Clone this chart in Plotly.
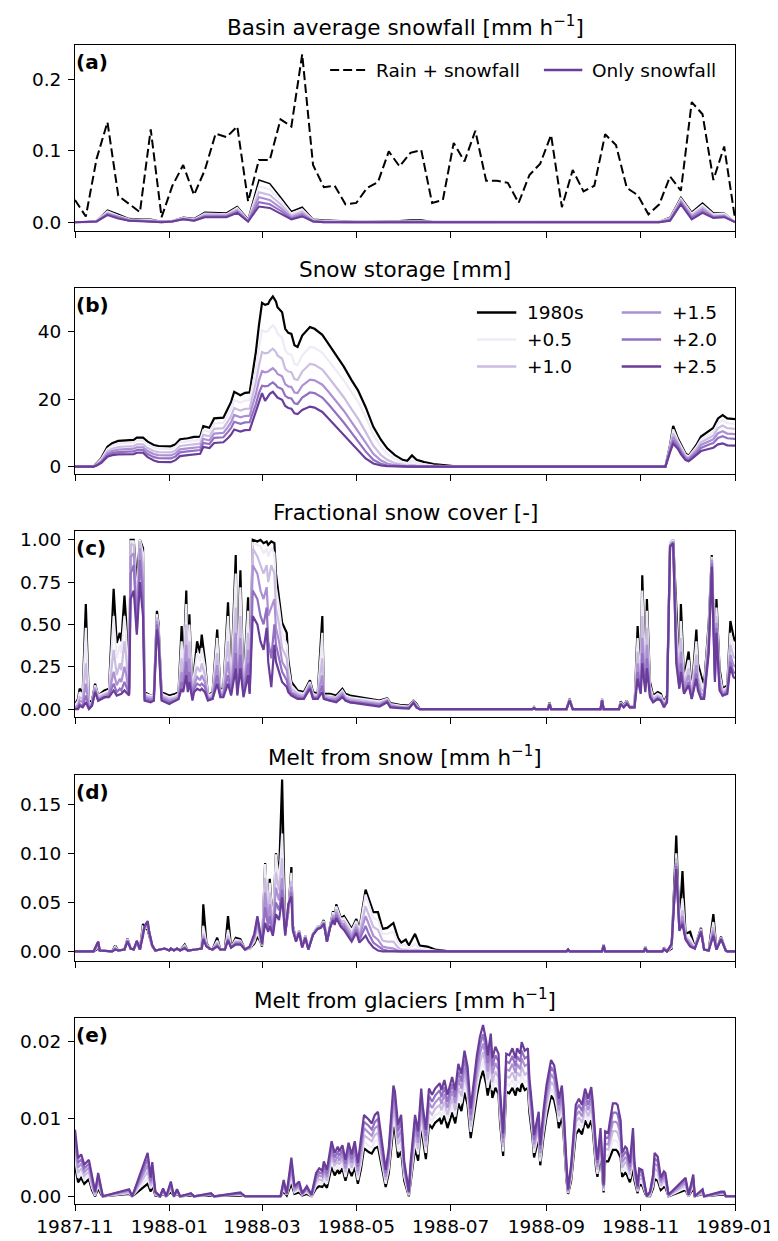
import pandas as pd
import plotly.graph_objects as go

# ---------------- data ----------------
START = pd.Timestamp("1987-11-01")
END = pd.Timestamp("1989-01-01")

SCEN_NAMES = ["1980s", "+0.5", "+1.0", "+1.5", "+2.0", "+2.5"]
SCEN_COLORS = ["#000000", "#efebf6", "#cbbce1", "#ad90d3", "#9370c1", "#6a3d9a"]

X_TICK_DATES = ["1987-11-01", "1988-01-01", "1988-03-01", "1988-05-01",
                "1988-07-01", "1988-09-01", "1988-11-01", "1989-01-01"]
X_TICK_LABELS = ["1987-11", "1988-01", "1988-03", "1988-05",
                 "1988-07", "1988-09", "1988-11", "1989-01"]

# (a) weekly basin averages
WEEK_DATES = pd.date_range("1987-11-01", "1989-01-01", freq="7D")
RAIN_SNOW = [.031, .008, .089, .140, .037, .025, .014, .130, .007, .051,
             .080, .038, .073, .124, .119, .134, .029, .087, .087, .144,
             .134, .235, .080, .049, .051, .025, .027, .048, .056, .099,
             .078, .097, .101, .027, .031, .111, .085, .128, .058, .058,
             .055, .027, .066, .082, .122, .021, .073, .043, .051, .123,
             .108, .048, .038, .011, .025, .064, .044, .168, .151, .059,
             .106, .005]
SNOW_1980S = [0, 0, .002, .017, .011, .005, .004, .004, .001, .002,
              .007, .005, .014, .014, .013, .022, .004, .059, .054, .035,
              .015, .021, .004, .003, .002, .001, .001, .001, .001, .001,
              .002, .003, .003, .001, 0, 0, 0, 0, 0, 0,
              0, 0, 0, 0, 0, 0, 0, 0, 0, 0,
              0, 0, 0, 0, .001, .007, .035, .014, .027, .013,
              .013, 0]
SNOW_P05 = [0, 0, .002, .015, .009, .004, .003, .003, .001, .002,
            .006, .004, .012, .012, .011, .020, .003, .050, .046, .030,
            .012, .018, .003, .002, .001, .001, .001, .001, .001, .001,
            .001, .002, .002, .001, 0, 0, 0, 0, 0, 0,
            0, 0, 0, 0, 0, 0, 0, 0, 0, 0,
            0, 0, 0, 0, .001, .006, .033, .012, .024, .011,
            .012, 0]
SNOW_P10 = [0, 0, .002, .013, .008, .003, .003, .002, .001, .002,
            .005, .003, .011, .011, .010, .018, .002, .042, .038, .025,
            .009, .015, .002, .001, .001, .001, 0, 0, 0, 0,
            .001, .001, .001, 0, 0, 0, 0, 0, 0, 0,
            0, 0, 0, 0, 0, 0, 0, 0, 0, 0,
            0, 0, 0, 0, .001, .005, .031, .010, .021, .009,
            .010, 0]
SNOW_P15 = [0, 0, .001, .012, .007, .003, .002, .002, .001, .001,
            .005, .003, .009, .009, .009, .016, .002, .035, .031, .020,
            .007, .012, .002, .001, 0, 0, 0, 0, 0, 0,
            0, 0, 0, 0, 0, 0, 0, 0, 0, 0,
            0, 0, 0, 0, 0, 0, 0, 0, 0, 0,
            0, 0, 0, 0, 0, .004, .029, .008, .018, .008,
            .009, 0]
SNOW_P20 = [0, 0, .001, .011, .006, .002, .002, .001, 0, .001,
            .004, .002, .008, .008, .008, .014, .001, .028, .025, .016,
            .005, .010, .001, 0, 0, 0, 0, 0, 0, 0,
            0, 0, 0, 0, 0, 0, 0, 0, 0, 0,
            0, 0, 0, 0, 0, 0, 0, 0, 0, 0,
            0, 0, 0, 0, 0, .003, .027, .006, .015, .007,
            .008, 0]
SNOW_P25 = [0, 0, .001, .010, .005, .002, .001, .001, 0, .001,
            .004, .002, .007, .007, .007, .013, .001, .022, .020, .012,
            .004, .008, .001, 0, 0, 0, 0, 0, 0, 0,
            0, 0, 0, 0, 0, 0, 0, 0, 0, 0,
            0, 0, 0, 0, 0, 0, 0, 0, 0, 0,
            0, 0, 0, 0, 0, .002, .025, .004, .013, .006,
            .007, 0]

# (b) snow storage [mm]; days since 1987-11-01
B_DAYS = [0, 12, 14, 17, 21, 24, 28, 33, 38, 40,
          44, 47, 51, 54, 62, 65, 68, 73, 77, 81,
          83, 87, 90, 96, 99, 101, 103, 107, 110, 113,
          114, 117, 119, 121, 123, 125, 126, 128, 130, 131,
          134, 136, 138, 140, 142, 144, 147, 150, 152, 155,
          160, 164, 169, 174, 179, 183, 188, 193, 198, 202,
          207, 212, 215, 218, 221, 226, 232, 239, 248, 300,
          382, 385, 387, 390, 392, 395, 397, 399, 402, 405,
          408, 411, 413, 416, 419, 422, 427]
B_1980S = [0, 0, 1.0, 2.5, 5.9, 6.9, 7.6, 7.8, 7.9, 8.6,
           8.6, 7.4, 6.4, 6.1, 6.0, 6.6, 8.1, 8.4, 8.8, 8.9,
           12.0, 11.5, 14.3, 14.5, 17.2, 19.2, 22.2, 21.2, 21.9, 22.0,
           25.0, 34.0, 41.9, 48.6, 48.0, 48.3, 49.3, 50.5, 49.0, 47.3,
           45.8, 40.9, 39.7, 39.4, 36.0, 35.5, 38.9, 40.4, 41.4, 40.9,
           39.1, 36.4, 33.0, 29.6, 25.6, 22.7, 17.7, 11.8, 7.9, 5.4,
           3.4, 2.0, 1.7, 3.3, 2.0, 1.3, 0.7, 0.3, 0, 0,
           0, 6.4, 12.1, 8.4, 6.4, 3.9, 3.2, 4.4, 6.4, 8.9,
           9.9, 10.8, 11.5, 14.3, 15.3, 14.3, 14.1]
B_P05 = [0, 0, 0.8, 2.2, 5.2, 6.2, 6.8, 7.0, 7.1, 7.7,
         7.7, 6.6, 5.6, 5.3, 5.2, 5.8, 7.2, 7.5, 7.8, 7.9,
         10.8, 10.3, 12.8, 13.0, 15.4, 17.2, 19.8, 19.0, 19.6, 19.7,
         22.0, 29.0, 35.0, 40.5, 40.0, 40.3, 41.0, 42.0, 40.8, 39.5,
         38.2, 34.5, 33.5, 33.2, 30.5, 30.2, 33.0, 34.5, 35.5, 35.3,
         33.8, 31.5, 28.5, 25.5, 22.0, 19.3, 14.8, 9.5, 5.8, 3.8,
         2.2, 1.2, 0.9, 1.8, 1.0, 0.6, 0.3, 0.1, 0, 0,
         0, 6.0, 11.0, 7.8, 5.9, 3.5, 2.9, 4.0, 5.8, 8.0,
         8.9, 9.7, 10.3, 12.9, 13.8, 12.9, 12.7]
B_P10 = [0, 0, 0.6, 1.8, 4.5, 5.3, 5.8, 6.0, 6.1, 6.6,
         6.6, 5.5, 4.6, 4.3, 4.2, 4.8, 6.1, 6.4, 6.7, 6.8,
         9.4, 9.0, 11.2, 11.4, 13.5, 15.0, 17.4, 16.6, 17.1, 17.2,
         19.2, 25.0, 30.0, 34.0, 33.6, 33.8, 34.3, 35.0, 34.0, 33.0,
         32.0, 29.0, 28.2, 28.0, 26.0, 25.7, 28.2, 29.5, 30.5, 30.2,
         28.8, 26.5, 23.5, 20.5, 17.0, 14.3, 10.3, 6.2, 3.4, 2.0,
         1.0, 0.5, 0.3, 0.6, 0.3, 0.1, 0, 0, 0, 0,
         0, 5.6, 9.8, 7.2, 5.3, 3.1, 2.6, 3.6, 5.2, 7.2,
         8.0, 8.7, 9.2, 11.4, 12.2, 11.4, 11.2]
B_P15 = [0, 0, 0.5, 1.5, 3.9, 4.6, 5.0, 5.2, 5.3, 5.7,
         5.7, 4.6, 3.7, 3.4, 3.3, 3.9, 5.1, 5.4, 5.7, 5.8,
         8.2, 7.8, 9.8, 10.0, 11.8, 13.2, 15.3, 14.6, 15.0, 15.1,
         16.8, 21.5, 25.5, 28.3, 28.0, 28.2, 28.6, 29.2, 28.3, 27.5,
         26.8, 24.5, 23.8, 23.6, 22.0, 21.8, 24.0, 25.0, 25.8, 25.6,
         24.3, 22.2, 19.5, 16.5, 13.2, 10.5, 7.0, 3.8, 1.8, 0.9,
         0.4, 0.1, 0, 0.1, 0, 0, 0, 0, 0, 0,
         0, 5.2, 8.8, 6.6, 4.8, 2.7, 2.3, 3.2, 4.6, 6.4,
         7.1, 7.7, 8.1, 9.9, 10.5, 9.8, 9.6]
B_P20 = [0, 0, 0.4, 1.3, 3.4, 4.0, 4.3, 4.4, 4.5, 4.9,
         4.9, 3.7, 2.8, 2.5, 2.4, 3.0, 4.2, 4.5, 4.8, 4.9,
         7.0, 6.7, 8.5, 8.7, 10.3, 11.5, 13.3, 12.7, 13.1, 13.2,
         14.6, 18.5, 21.8, 24.0, 23.8, 24.0, 24.4, 25.0, 24.2, 23.6,
         23.0, 21.0, 20.4, 20.2, 18.8, 18.6, 20.5, 21.3, 22.0, 21.8,
         20.5, 18.5, 15.8, 13.0, 10.0, 7.5, 4.5, 2.0, 0.8, 0.3,
         0.1, 0, 0, 0, 0, 0, 0, 0, 0, 0,
         0, 4.8, 7.8, 6.0, 4.3, 2.3, 1.9, 2.8, 4.0, 5.5,
         6.2, 6.7, 7.0, 8.5, 9.0, 8.4, 8.2]
B_P25 = [0, 0, 0.3, 1.1, 2.9, 3.4, 3.6, 3.7, 3.7, 4.1,
         4.1, 2.8, 1.8, 1.4, 1.3, 1.9, 3.1, 3.4, 3.7, 3.8,
         5.8, 5.5, 7.0, 7.2, 8.5, 9.5, 11.0, 10.4, 10.8, 10.9,
         12.2, 16.3, 19.2, 21.8, 19.5, 21.0, 21.6, 22.2, 21.2, 20.5,
         19.8, 18.0, 17.4, 17.2, 15.8, 15.6, 16.8, 17.4, 17.8, 17.5,
         16.2, 14.3, 11.8, 9.3, 6.8, 4.7, 2.4, 0.9, 0.3, 0.1,
         0, 0, 0, 0, 0, 0, 0, 0, 0, 0,
         0, 4.3, 6.8, 5.3, 3.7, 1.9, 1.6, 2.3, 3.4, 4.6,
         5.0, 5.4, 5.6, 6.6, 6.9, 6.3, 6.2]

# (c) fractional snow cover [-]
C_DAYS = [0, 2, 3, 5, 7, 9, 11, 13, 15, 19,
          22, 25, 27, 29, 30, 32, 33, 35, 36, 38,
          40, 42, 44, 45, 49, 51, 53, 54, 56, 61,
          65, 67, 69, 70, 72, 73, 74, 76, 77, 79,
          81, 82, 84, 86, 89, 92, 94, 96, 99, 101,
          104, 105, 107, 109, 112, 113, 115, 118, 120, 122,
          124, 125, 127, 129, 130, 132, 134, 137, 138, 140,
          144, 148, 152, 154, 157, 160, 161, 165, 169, 173,
          175, 178, 186, 197, 202, 204, 210, 216, 219, 221,
          223, 296, 297, 298, 306, 307, 308, 318, 320, 322,
          340, 341, 342, 352, 353, 355, 357, 359, 362, 364,
          366, 367, 369, 370, 372, 374, 377, 379, 381, 383,
          385, 387, 389, 391, 392, 394, 397, 399, 402, 403,
          405, 407, 410, 412, 414, 415, 417, 419, 422, 424,
          426, 427]
C_1980S = [.03, .06, .12, .10, .62, .04, .05, .15, .08, .11,
           .12, .71, .39, .45, .40, .67, .53, .12, 1.0, 1.0,
           .75, 1.0, .95, .10, .08, .08, .58, .51, .10, .08,
           .09, .10, .49, .22, .70, .25, .56, .08, .22, .40,
           .33, .44, .29, .08, .10, .47, .12, .12, .63, .16,
           .91, .14, .82, .12, .66, .14, 1.0, .99, 1.0, .98,
           .99, .97, .99, .98, .80, .67, .51, .45, .29, .16,
           .11, .10, .17, .10, .09, .55, .09, .09, .08, .12,
           .09, .08, .066, .05, .064, .035, .025, .02, .05, .03,
           0, 0, .012, 0, 0, .04, 0, 0, .06, 0,
           0, .06, 0, 0, .045, .02, .05, .01, .02, .49,
           .16, .79, .20, .65, .16, .08, .10, .09, .04, .08,
           .98, 1.0, .61, .21, .62, .18, .34, .10, .47, .27,
           .20, .14, .51, .91, .27, .65, .24, .12, .14, .52,
           .43, .40]
C_P05 = [.02, .05, .10, .08, .48, .03, .04, .14, .08, .10,
         .11, .55, .30, .38, .33, .55, .45, .11, .99, .99,
         .65, 1.0, .92, .09, .08, .08, .56, .49, .09, .07,
         .08, .09, .40, .20, .62, .22, .50, .08, .20, .33,
         .28, .36, .25, .08, .09, .42, .11, .11, .55, .14,
         .80, .13, .72, .11, .58, .13, .98, .97, .96, .92,
         .95, .90, .95, .92, .72, .60, .45, .38, .25, .14,
         .10, .09, .16, .09, .08, .45, .08, .08, .07, .11,
         .08, .07, .06, .045, .06, .03, .02, .015, .048, .025,
         0, 0, .01, 0, 0, .038, 0, 0, .058, 0,
         0, .058, 0, 0, .04, .02, .045, .01, .02, .42,
         .15, .70, .18, .58, .14, .07, .09, .08, .035, .07,
         .98, 1.0, .52, .19, .52, .16, .29, .09, .40, .23,
         .16, .12, .48, .90, .25, .60, .21, .11, .13, .45,
         .37, .35]
C_P10 = [.01, .03, .07, .06, .27, .02, .04, .13, .07, .09,
         .10, .35, .20, .27, .23, .40, .32, .10, .97, .97,
         .55, .99, .85, .08, .07, .07, .54, .47, .08, .06,
         .07, .08, .30, .17, .50, .18, .40, .07, .17, .25,
         .22, .27, .20, .07, .08, .33, .10, .10, .40, .12,
         .60, .11, .55, .10, .45, .12, .95, .90, .85, .80,
         .85, .75, .85, .80, .60, .50, .36, .30, .20, .12,
         .09, .08, .15, .08, .08, .30, .08, .07, .07, .10,
         .07, .06, .05, .035, .055, .025, .015, .01, .045, .02,
         0, 0, .01, 0, 0, .035, 0, 0, .056, 0,
         0, .056, 0, 0, .04, .015, .04, .01, .015, .34,
         .13, .55, .16, .48, .12, .06, .08, .07, .03, .06,
         .97, .99, .44, .17, .42, .14, .24, .08, .32, .19,
         .12, .10, .44, .89, .22, .55, .18, .10, .12, .38,
         .31, .30]
C_P15 = [.01, .02, .05, .04, .15, .01, .03, .12, .06, .08,
         .09, .22, .14, .18, .16, .25, .21, .09, .90, .92,
         .50, .95, .75, .07, .06, .06, .52, .45, .07, .05,
         .06, .07, .22, .14, .38, .15, .30, .06, .14, .19,
         .17, .20, .16, .06, .07, .26, .09, .09, .28, .10,
         .45, .10, .42, .09, .35, .11, .85, .80, .70, .65,
         .72, .55, .60, .65, .48, .40, .28, .23, .16, .10,
         .08, .07, .14, .07, .07, .20, .07, .06, .06, .09,
         .06, .05, .04, .03, .05, .02, .01, .008, .042, .015,
         0, 0, .008, 0, 0, .032, 0, 0, .054, 0,
         0, .054, 0, 0, .035, .015, .04, .01, .01, .27,
         .11, .42, .14, .38, .10, .05, .07, .06, .025, .05,
         .97, .99, .37, .15, .34, .12, .20, .07, .26, .16,
         .09, .08, .40, .88, .20, .51, .15, .09, .11, .32,
         .26, .25]
C_P20 = [0, .01, .03, .02, .08, 0, .02, .11, .05, .07,
         .08, .15, .10, .12, .11, .16, .14, .09, .80, .85,
         .46, .88, .65, .06, .05, .05, .50, .43, .06, .04,
         .05, .06, .16, .12, .28, .12, .22, .06, .12, .15,
         .14, .15, .13, .06, .06, .20, .08, .08, .20, .09,
         .33, .09, .32, .08, .27, .10, .70, .65, .55, .50,
         .60, .40, .30, .50, .38, .30, .22, .17, .12, .09,
         .07, .06, .13, .07, .06, .14, .06, .05, .05, .08,
         .05, .04, .035, .02, .045, .015, .008, .005, .04, .01,
         0, 0, .006, 0, 0, .03, 0, 0, .052, 0,
         0, .052, 0, 0, .03, .01, .035, .01, .01, .22,
         .10, .33, .12, .30, .08, .045, .06, .05, .02, .04,
         .96, .98, .31, .13, .27, .10, .16, .06, .21, .13,
         .07, .07, .36, .86, .18, .48, .13, .08, .10, .28,
         .22, .21]
C_P25 = [0, 0, .02, .01, .04, 0, .02, .10, .05, .07,
         .07, .11, .08, .09, .09, .11, .10, .08, .65, .70,
         .44, .75, .55, .05, .04, .05, .47, .40, .05, .03,
         .05, .06, .12, .10, .20, .10, .16, .05, .10, .12,
         .11, .12, .10, .05, .06, .15, .07, .07, .15, .08,
         .24, .08, .24, .07, .20, .09, .55, .50, .40, .35,
         .48, .28, .13, .38, .28, .22, .16, .13, .10, .08,
         .06, .06, .12, .06, .06, .10, .06, .05, .04, .07,
         .05, .04, .03, .015, .04, .01, .005, .003, .035, .008,
         0, 0, .005, 0, 0, .028, 0, 0, .05, 0,
         0, .05, 0, 0, .03, .01, .03, .01, .01, .18,
         .09, .27, .10, .24, .07, .04, .06, .05, .01, .04,
         .96, .98, .27, .12, .22, .09, .14, .06, .18, .11,
         .06, .06, .33, .84, .16, .45, .11, .08, .09, .25,
         .19, .18]

# (d) melt from snow [mm h-1]
D_DAYS = [0, 12, 14, 15, 16, 24, 26, 28, 32, 34,
          36, 38, 40, 42, 44, 45, 47, 48, 50, 52,
          58, 61, 62, 64, 66, 68, 71, 73, 78, 82,
          83, 85, 87, 89, 92, 94, 97, 99, 101, 104,
          107, 110, 113, 116, 118, 120, 121, 123, 124, 125,
          126, 128, 130, 132, 134, 136, 138, 140, 141, 143,
          145, 147, 149, 151, 154, 157, 159, 161, 163, 165,
          167, 168, 169, 172, 174, 176, 179, 182, 184, 188,
          190, 193, 196, 199, 202, 206, 209, 211, 214, 216,
          220, 223, 228, 233, 242, 318, 319, 320, 341, 342,
          343, 368, 369, 370, 380, 381, 383, 386, 389, 391,
          393, 395, 398, 401, 405, 407, 410, 413, 415, 418,
          421, 422, 427]
D_1980S = [0, 0, .002, .008, .001, 0, .006, .001, .002, .0135,
           .003, .002, .009, .002, .028, .025, .022, .016, .005, .001,
           .003, .001, .003, .001, .003, .001, .007, .001, .002, .003,
           .048, .009, .003, .002, .014, .002, .002, .036, .004, .014,
           .0125, .002, .003, .008, .015, .010, .005, .090, .060, .040,
           .074, .025, .100, .077, .175, .020, .040, .086, .026, .0125,
           .021, .006, .016, .002, .018, .025, .026, .032, .011, .026,
           .041, .032, .048, .034, .036, .031, .023, .033, .023, .063,
           .053, .040, .040, .023, .024, .029, .014, .009, .012, .006,
           .018, .006, .005, .002, 0, 0, .002, 0, 0, .007,
           0, 0, .005, 0, 0, .004, 0, .003, .118, .026,
           .082, .018, .020, .004, .024, .002, .001, .038, .002, .015,
           .001, 0, 0]
D_P05 = [0, 0, .003, .009, .001, 0, .005, .001, .002, .013,
         .003, .002, .009, .002, .025, .024, .024, .017, .005, .001,
         .003, .001, .003, .001, .003, .001, .006, .001, .002, .003,
         .026, .008, .003, .002, .011, .002, .002, .022, .004, .012,
         .011, .002, .003, .010, .020, .012, .006, .089, .058, .040,
         .070, .025, .099, .070, .120, .020, .040, .080, .025, .012,
         .021, .006, .016, .002, .018, .025, .026, .031, .011, .026,
         .040, .031, .046, .033, .034, .029, .021, .031, .021, .058,
         .048, .034, .032, .018, .018, .020, .009, .006, .007, .003,
         .008, .003, .002, .001, 0, 0, .002, 0, 0, .007,
         0, 0, .005, 0, 0, .004, 0, .004, .100, .025,
         .054, .016, .014, .004, .023, .002, .001, .030, .002, .014,
         .001, 0, 0]
D_P10 = [0, 0, .004, .009, .001, 0, .004, .001, .002, .012,
         .003, .002, .010, .002, .022, .024, .026, .018, .006, .001,
         .003, .001, .003, .001, .003, .001, .005, .001, .002, .003,
         .018, .007, .003, .002, .009, .002, .002, .016, .004, .010,
         .010, .002, .004, .012, .025, .013, .006, .075, .050, .035,
         .060, .022, .080, .062, .095, .019, .042, .072, .024, .012,
         .020, .005, .015, .002, .018, .024, .025, .030, .011, .025,
         .038, .030, .043, .031, .031, .026, .018, .028, .018, .046,
         .038, .025, .022, .011, .010, .010, .004, .002, .002, .001,
         .002, .001, 0, 0, 0, 0, .002, 0, 0, .007,
         0, 0, .004, 0, 0, .003, 0, .005, .095, .024,
         .042, .015, .010, .003, .022, .002, .001, .025, .002, .014,
         .001, 0, 0]
D_P15 = [0, 0, .005, .010, .001, 0, .003, .001, .002, .011,
         .003, .002, .010, .002, .020, .024, .028, .019, .006, .001,
         .003, .001, .003, .001, .003, .001, .004, .001, .002, .003,
         .015, .006, .003, .002, .007, .002, .002, .013, .004, .009,
         .009, .002, .004, .014, .029, .014, .007, .060, .042, .030,
         .048, .020, .065, .052, .075, .018, .044, .066, .023, .011,
         .020, .005, .015, .002, .017, .024, .025, .029, .010, .025,
         .036, .029, .040, .029, .028, .023, .015, .025, .015, .036,
         .028, .016, .012, .005, .004, .003, .001, 0, 0, 0,
         0, 0, 0, 0, 0, 0, .002, 0, 0, .006,
         0, 0, .004, 0, 0, .003, 0, .006, .090, .023,
         .036, .014, .008, .003, .021, .002, .001, .021, .002, .013,
         .001, 0, 0]
D_P20 = [0, 0, .006, .010, .001, 0, .002, .001, .002, .011,
         .003, .002, .010, .002, .018, .025, .030, .020, .006, .001,
         .003, .001, .003, .001, .003, .001, .004, .001, .002, .003,
         .013, .006, .003, .002, .006, .002, .002, .012, .004, .008,
         .008, .002, .005, .016, .033, .015, .007, .045, .035, .025,
         .036, .018, .050, .042, .063, .017, .046, .060, .022, .011,
         .019, .004, .014, .002, .017, .023, .024, .029, .010, .024,
         .034, .028, .037, .027, .025, .020, .012, .022, .012, .026,
         .018, .009, .005, .002, .001, 0, 0, 0, 0, 0,
         0, 0, 0, 0, 0, 0, .002, 0, 0, .006,
         0, 0, .004, 0, 0, .003, 0, .007, .087, .022,
         .031, .013, .006, .003, .021, .002, .001, .018, .002, .013,
         .001, 0, 0]
D_P25 = [0, 0, .007, .010, .001, 0, .002, .001, .002, .010,
         .003, .002, .011, .002, .016, .026, .031, .020, .006, .001,
         .003, .001, .003, .001, .003, .001, .003, .001, .002, .003,
         .0125, .005, .003, .002, .005, .002, .002, .011, .004, .007,
         .007, .002, .005, .018, .036, .016, .008, .029, .025, .020,
         .026, .016, .038, .032, .055, .016, .048, .056, .021, .010,
         .019, .004, .014, .002, .017, .023, .024, .028, .010, .024,
         .032, .027, .034, .025, .022, .017, .010, .019, .009, .016,
         .010, .004, .001, 0, 0, 0, 0, 0, 0, 0,
         0, 0, 0, 0, 0, 0, .002, 0, 0, .006,
         0, 0, .003, 0, 0, .002, 0, .008, .084, .021,
         .028, .012, .005, .003, .020, .002, .001, .016, .002, .0125,
         .001, 0, 0]

# (e) melt from glaciers [mm h-1]
E_DAYS = [0, 2, 4, 6, 9, 11, 13, 15, 17, 18,
          35, 37, 47, 49, 50, 52, 55, 57, 59, 62,
          64, 66, 68, 75, 77, 88, 90, 107, 110, 133,
          135, 137, 140, 142, 145, 147, 150, 153, 156, 158,
          160, 161, 163, 165, 166, 168, 170, 171, 173, 175,
          177, 179, 181, 183, 185, 187, 190, 192, 194, 196,
          199, 201, 203, 206, 207, 209, 211, 213, 216, 217,
          220, 222, 224, 225, 227, 229, 231, 233, 236, 237,
          239, 241, 244, 246, 248, 250, 252, 254, 256, 258,
          260, 262, 264, 266, 267, 269, 270, 272, 274, 275,
          277, 279, 281, 283, 285, 286, 288, 289, 291, 293,
          294, 296, 297, 300, 301, 303, 305, 308, 310, 312,
          313, 315, 316, 318, 319, 321, 324, 326, 328, 330,
          332, 334, 335, 337, 338, 340, 342, 343, 345, 346,
          348, 350, 351, 353, 354, 356, 357, 359, 361, 362,
          364, 365, 367, 369, 370, 372, 374, 375, 377, 379,
          381, 382, 384, 395, 397, 400, 401, 406, 407, 418,
          420, 421, 427]
E_1980S = [.0040, .0018, .0024, .0016, .0022, .0008, 0, .0010, .0002, 0,
           .0003, 0, .0016, .0006, .0014, .0001, 0, .0003, 0, .0006,
           0, .0003, 0, .0001, 0, .0001, 0, .0001, 0, 0,
           .0006, .0001, .0016, .0003, .0005, .0001, .0003, 0, .0010, .0013,
           .0012, .0016, .0011, .0030, .0038, .0027, .0034, .0029, .0036, .0020,
           .0036, .0026, .0038, .0016, .0035, .0062, .0057, .0055, .0062, .0064,
           .0030, .0012, .0030, .0090, .0085, .0050, .0058, .0020, 0, .0015,
           .0062, .0046, .0092, .0075, .0048, .0093, .0088, .0095, .0100, .0093,
           .0104, .0088, .0108, .0094, .0120, .0110, .0134, .0118, .0075, .0103,
           .0130, .0150, .0162, .0145, .0130, .0152, .0127, .0140, .0132, .0095,
           .0052, .0135, .0133, .0140, .0130, .0140, .0135, .0146, .0137, .0140,
           .0108, .0075, .0050, .0075, .0040, .0075, .0102, .0130, .0124, .0105,
           .0088, .0103, .0082, .0020, .0003, .0020, .0080, .0086, .0080, .0098,
           .0088, .0098, .0085, .0038, .0025, .0055, .0005, .0045, .0045, .0050,
           .0060, .0060, .0058, .0050, .0025, .0030, .0028, .0018, .0035, .0020,
           .0004, .0015, .0014, .0003, 0, 0, .0010, .0022, .0020, .0008,
           .0012, .0011, 0, .0008, 0, .0010, 0, .0003, 0, .0002,
           .0002, 0, 0]
E_P05 = [.0049, .0024, .0030, .0021, .0027, .0011, .0001, .0014, .0004, 0,
         .0004, 0, .0024, .0010, .0020, .0002, 0, .0004, 0, .0009,
         0, .0004, 0, .0002, 0, .0002, 0, .0002, 0, 0,
         .0009, .0002, .0023, .0005, .0008, .0002, .0005, 0, .0014, .0018,
         .0016, .0022, .0016, .0036, .0045, .0033, .0040, .0035, .0042, .0025,
         .0043, .0032, .0045, .0021, .0042, .0071, .0065, .0063, .0071, .0073,
         .0037, .0016, .0036, .0101, .0095, .0058, .0067, .0025, .0001, .0020,
         .0071, .0054, .0101, .0083, .0056, .0102, .0097, .0104, .0109, .0102,
         .0113, .0097, .0117, .0103, .0130, .0120, .0145, .0128, .0083, .0112,
         .0140, .0161, .0174, .0156, .0140, .0164, .0137, .0151, .0142, .0103,
         .0058, .0145, .0143, .0150, .0140, .0150, .0145, .0157, .0147, .0150,
         .0117, .0082, .0056, .0082, .0045, .0082, .0110, .0139, .0133, .0113,
         .0096, .0111, .0089, .0024, .0004, .0024, .0088, .0094, .0088, .0106,
         .0096, .0107, .0092, .0044, .0029, .0062, .0007, .0053, .0052, .0059,
         .0072, .0072, .0070, .0060, .0031, .0037, .0035, .0023, .0046, .0025,
         .0006, .0019, .0018, .0005, 0, .0001, .0014, .0029, .0026, .0011,
         .0016, .0015, 0, .0011, 0, .0014, 0, .0004, 0, .0003,
         .0003, 0, 0]
E_P10 = [.0058, .0030, .0036, .0026, .0032, .0014, .0002, .0018, .0006, 0,
         .0005, 0, .0032, .0013, .0026, .0003, 0, .0006, 0, .0011,
         0, .0005, 0, .0002, 0, .0002, 0, .0003, 0, 0,
         .0012, .0002, .0030, .0007, .0011, .0002, .0007, .0001, .0018, .0022,
         .0020, .0028, .0020, .0042, .0051, .0039, .0046, .0041, .0048, .0031,
         .0049, .0037, .0051, .0027, .0049, .0079, .0074, .0071, .0079, .0082,
         .0044, .0021, .0043, .0111, .0105, .0067, .0077, .0030, .0002, .0025,
         .0079, .0061, .0111, .0091, .0063, .0111, .0105, .0113, .0118, .0111,
         .0122, .0105, .0126, .0111, .0140, .0129, .0156, .0138, .0090, .0121,
         .0151, .0172, .0186, .0167, .0151, .0175, .0147, .0161, .0153, .0112,
         .0064, .0155, .0153, .0160, .0149, .0160, .0155, .0167, .0157, .0160,
         .0126, .0089, .0062, .0089, .0050, .0089, .0118, .0148, .0142, .0120,
         .0103, .0119, .0096, .0028, .0005, .0028, .0095, .0102, .0095, .0114,
         .0103, .0115, .0100, .0049, .0034, .0068, .0009, .0061, .0060, .0068,
         .0084, .0084, .0082, .0069, .0037, .0044, .0042, .0028, .0056, .0029,
         .0008, .0023, .0022, .0006, 0, .0002, .0017, .0036, .0032, .0014,
         .0020, .0019, .0001, .0014, .0001, .0017, 0, .0005, 0, .0004,
         .0004, 0, 0]
E_P15 = [.0068, .0037, .0042, .0031, .0037, .0018, .0004, .0022, .0007, 0,
         .0007, 0, .0040, .0017, .0032, .0004, 0, .0007, 0, .0014,
         0, .0007, 0, .0003, 0, .0003, 0, .0003, 0, 0,
         .0015, .0003, .0036, .0009, .0013, .0003, .0009, .0001, .0022, .0027,
         .0025, .0033, .0025, .0048, .0058, .0044, .0052, .0046, .0054, .0036,
         .0056, .0043, .0058, .0032, .0057, .0088, .0082, .0078, .0088, .0091,
         .0050, .0025, .0049, .0122, .0115, .0075, .0086, .0035, .0004, .0031,
         .0088, .0069, .0120, .0100, .0071, .0121, .0114, .0121, .0128, .0119,
         .0132, .0114, .0136, .0120, .0151, .0139, .0166, .0147, .0098, .0130,
         .0161, .0184, .0197, .0179, .0161, .0187, .0158, .0172, .0163, .0120,
         .0069, .0164, .0162, .0171, .0159, .0171, .0164, .0178, .0168, .0171,
         .0134, .0097, .0067, .0095, .0056, .0095, .0127, .0158, .0151, .0128,
         .0111, .0127, .0104, .0033, .0007, .0033, .0103, .0110, .0103, .0123,
         .0111, .0124, .0107, .0055, .0038, .0075, .0011, .0068, .0067, .0078,
         .0096, .0096, .0094, .0079, .0044, .0050, .0048, .0033, .0067, .0034,
         .0009, .0028, .0026, .0008, 0, .0004, .0021, .0042, .0039, .0018,
         .0024, .0022, .0001, .0018, .0001, .0021, 0, .0007, 0, .0004,
         .0004, 0, 0]
E_P20 = [.0077, .0043, .0048, .0036, .0042, .0021, .0005, .0026, .0009, 0,
         .0008, 0, .0048, .0020, .0038, .0005, 0, .0009, 0, .0016,
         0, .0008, 0, .0003, 0, .0003, 0, .0004, 0, 0,
         .0018, .0003, .0043, .0011, .0016, .0003, .0011, .0002, .0026, .0031,
         .0029, .0039, .0029, .0054, .0064, .0050, .0058, .0052, .0060, .0042,
         .0062, .0048, .0064, .0038, .0064, .0096, .0091, .0086, .0096, .0100,
         .0057, .0030, .0056, .0132, .0125, .0084, .0096, .0040, .0005, .0036,
         .0096, .0076, .0130, .0108, .0078, .0130, .0122, .0130, .0137, .0128,
         .0141, .0122, .0145, .0128, .0161, .0148, .0177, .0157, .0105, .0139,
         .0172, .0195, .0209, .0190, .0172, .0198, .0168, .0182, .0174, .0129,
         .0075, .0174, .0172, .0181, .0168, .0181, .0174, .0188, .0178, .0181,
         .0143, .0104, .0073, .0102, .0061, .0102, .0135, .0167, .0160, .0135,
         .0118, .0135, .0111, .0037, .0008, .0037, .0110, .0118, .0110, .0131,
         .0118, .0132, .0115, .0060, .0043, .0081, .0013, .0076, .0075, .0087,
         .0108, .0108, .0106, .0088, .0050, .0057, .0055, .0038, .0077, .0038,
         .0011, .0032, .0030, .0009, 0, .0005, .0024, .0049, .0045, .0021,
         .0028, .0026, .0002, .0021, .0002, .0024, 0, .0008, 0, .0005,
         .0005, 0, 0]
E_P25 = [.0086, .0049, .0054, .0041, .0047, .0024, .0006, .0030, .0011, 0,
         .0009, 0, .0056, .0024, .0044, .0006, 0, .0010, 0, .0019,
         0, .0009, 0, .0004, 0, .0004, 0, .0005, 0, 0,
         .0021, .0004, .0050, .0013, .0019, .0004, .0013, .0002, .0030, .0036,
         .0033, .0045, .0034, .0060, .0071, .0056, .0064, .0058, .0066, .0047,
         .0069, .0054, .0071, .0043, .0071, .0105, .0099, .0094, .0105, .0109,
         .0064, .0034, .0062, .0143, .0135, .0092, .0105, .0045, .0006, .0041,
         .0105, .0084, .0139, .0116, .0086, .0139, .0131, .0139, .0146, .0137,
         .0150, .0131, .0154, .0137, .0171, .0158, .0188, .0167, .0113, .0148,
         .0182, .0206, .0221, .0201, .0182, .0210, .0178, .0193, .0184, .0137,
         .0081, .0184, .0182, .0191, .0178, .0191, .0184, .0199, .0188, .0191,
         .0152, .0111, .0079, .0109, .0066, .0109, .0143, .0176, .0169, .0143,
         .0126, .0143, .0118, .0041, .0009, .0041, .0118, .0126, .0118, .0139,
         .0126, .0141, .0122, .0066, .0047, .0088, .0015, .0084, .0082, .0096,
         .0120, .0120, .0118, .0098, .0056, .0064, .0062, .0043, .0088, .0043,
         .0013, .0036, .0034, .0011, 0, .0006, .0028, .0056, .0051, .0024,
         .0032, .0030, .0002, .0024, .0002, .0028, 0, .0009, 0, .0006,
         .0006, 0, 0]

TITLES = ["Basin average snowfall [mm h<sup>−1</sup>]",
          "Snow storage [mm]",
          "Fractional snow cover [-]",
          "Melt from snow [mm h<sup>−1</sup>]",
          "Melt from glaciers [mm h<sup>−1</sup>]"]
PANEL_LABELS = ["(a)", "(b)", "(c)", "(d)", "(e)"]

Y_RANGES = [[-0.0122, 0.248], [-2.3, 52.9], [-0.048, 1.05], [-0.0093, 0.180], [-0.0010, 0.0230]]
Y_TICKS = [[0, 0.1, 0.2], [0, 20, 40], [0, 0.25, 0.5, 0.75, 1.0],
           [0, 0.05, 0.10, 0.15], [0, 0.01, 0.02]]
Y_TICKTEXT = [["0.0", "0.1", "0.2"], ["0", "20", "40"],
              ["0.00", "0.25", "0.50", "0.75", "1.00"],
              ["0.00", "0.05", "0.10", "0.15"], ["0.00", "0.01", "0.02"]]

# ---------------- layout geometry ----------------
W, H = 778, 1241
PL, PR, PT, PB = 67, 737, 37, 1206
PANEL_TOPS = [37, 282.5, 527.5, 773, 1018.5]
PANEL_H = 187.5
FONT = "DejaVu Sans"
TICK_SIZE = 18.5
LEG_SIZE = 18.5
TITLE_SIZE = 21.5
LABEL_SIZE = 20


def xp(px):
    return (px - PL) / (PR - PL)


def yp(py):
    return (PB - py) / (PB - PT)


def to_dates(days):
    return [START + pd.Timedelta(days=int(d)) for d in days]


for a in (RAIN_SNOW, SNOW_1980S, SNOW_P05, SNOW_P10, SNOW_P15, SNOW_P20, SNOW_P25):
    assert len(a) == len(WEEK_DATES), len(a)
for days, arrs in [(B_DAYS, (B_1980S, B_P05, B_P10, B_P15, B_P20, B_P25)),
                   (C_DAYS, (C_1980S, C_P05, C_P10, C_P15, C_P20, C_P25)),
                   (D_DAYS, (D_1980S, D_P05, D_P10, D_P15, D_P20, D_P25)),
                   (E_DAYS, (E_1980S, E_P05, E_P10, E_P15, E_P20, E_P25))]:
    for a in arrs:
        assert len(a) == len(days), (len(a), len(days))

fig = go.Figure()


def add_line(i, x, y, color, width, dash="solid"):
    fig.add_trace(go.Scatter(
        x=x, y=y, mode="lines", line=dict(color=color, width=width, dash=dash),
        xaxis="x" if i == 0 else f"x{i+1}", yaxis="y" if i == 0 else f"y{i+1}",
        showlegend=False, hoverinfo="skip"))


# panel a
add_line(0, WEEK_DATES, RAIN_SNOW, "black", 2, "9px,4px")
for vals, col in zip([SNOW_1980S, SNOW_P05, SNOW_P10, SNOW_P15, SNOW_P20, SNOW_P25], SCEN_COLORS):
    add_line(0, WEEK_DATES, vals, col, 1.5 if col == "#000000" else 2)

panel_series = [
    (B_DAYS, [B_1980S, B_P05, B_P10, B_P15, B_P20, B_P25]),
    (C_DAYS, [C_1980S, C_P05, C_P10, C_P15, C_P20, C_P25]),
    (D_DAYS, [D_1980S, D_P05, D_P10, D_P15, D_P20, D_P25]),
    (E_DAYS, [E_1980S, E_P05, E_P10, E_P15, E_P20, E_P25]),
]
for pi, (days, series) in enumerate(panel_series, start=1):
    dates = to_dates(days)
    for vals, col in zip(series, SCEN_COLORS):
        add_line(pi, dates, vals, col, 2.2)

layout = dict(
    width=W, height=H,
    margin=dict(l=PL, r=W - PR, t=PT, b=H - PB, pad=0),
    paper_bgcolor="white", plot_bgcolor="white",
    font=dict(family=FONT, size=TICK_SIZE, color="black"),
    showlegend=False,
)

annotations = []
shapes = []
for i in range(5):
    top = PANEL_TOPS[i]
    bot = top + PANEL_H
    xa = "xaxis" if i == 0 else f"xaxis{i+1}"
    ya = "yaxis" if i == 0 else f"yaxis{i+1}"
    layout[xa] = dict(
        domain=[0, 1], anchor="y" if i == 0 else f"y{i+1}",
        range=[START, END], type="date",
        tickmode="array", tickvals=X_TICK_DATES, ticktext=X_TICK_LABELS,
        showticklabels=(i == 4), ticks="outside", ticklen=6, tickwidth=1,
        tickcolor="black", showline=True, linecolor="black", linewidth=1,
        mirror=True, showgrid=False, zeroline=False,
        tickfont=dict(family=FONT, size=TICK_SIZE, color="black"))
    layout[ya] = dict(
        domain=[yp(bot), yp(top)], anchor="x" if i == 0 else f"x{i+1}",
        range=Y_RANGES[i], tickmode="array", tickvals=Y_TICKS[i], ticktext=Y_TICKTEXT[i],
        ticks="outside", ticklen=6, tickwidth=1, tickcolor="black",
        ticklabelstandoff=3,
        showline=True, linecolor="black", linewidth=1, mirror=True,
        showgrid=False, zeroline=False,
        tickfont=dict(family=FONT, size=TICK_SIZE, color="black"))
    annotations.append(dict(
        text=TITLES[i], xref="paper", yref="paper", x=0.5, y=yp(top - 19),
        xanchor="center", yanchor="middle", showarrow=False,
        font=dict(family=FONT, size=TITLE_SIZE, color="black")))
    annotations.append(dict(
        text=f"<b>{PANEL_LABELS[i]}</b>", xref="paper", yref="paper",
        x=xp(66), y=yp(top + 17), xanchor="left", yanchor="middle",
        showarrow=False, font=dict(family=FONT, size=LABEL_SIZE, color="black")))

# legend for panel (a)
LEG_A_Y = 62.3
shapes.append(dict(type="line", xref="paper", yref="paper", x0=xp(326), x1=xp(363),
                   y0=yp(LEG_A_Y), y1=yp(LEG_A_Y), line=dict(color="black", width=2, dash="9px,4px")))
annotations.append(dict(text="Rain + snowfall", xref="paper", yref="paper", x=xp(371),
                        y=yp(LEG_A_Y), xanchor="left", yanchor="middle", showarrow=False,
                        font=dict(family=FONT, size=LEG_SIZE, color="black")))
shapes.append(dict(type="line", xref="paper", yref="paper", x0=xp(543), x1=xp(582),
                   y0=yp(LEG_A_Y), y1=yp(LEG_A_Y), line=dict(color=SCEN_COLORS[5], width=2.5)))
annotations.append(dict(text="Only snowfall", xref="paper", yref="paper", x=xp(590),
                        y=yp(LEG_A_Y), xanchor="left", yanchor="middle", showarrow=False,
                        font=dict(family=FONT, size=LEG_SIZE, color="black")))

# legend for panel (b): two columns
LEG_B_ROWS = [306.7, 334.0, 361.3]
LEG_B_COLS = [(475, 515, 524), (622, 662, 671)]
for k, (name, col) in enumerate(zip(SCEN_NAMES, SCEN_COLORS)):
    c = k // 3
    r = k % 3
    x0, x1, xt = LEG_B_COLS[c]
    yy = LEG_B_ROWS[r]
    shapes.append(dict(type="line", xref="paper", yref="paper", x0=xp(x0), x1=xp(x1),
                       y0=yp(yy), y1=yp(yy), line=dict(color=col, width=2.5)))
    annotations.append(dict(text=name, xref="paper", yref="paper", x=xp(xt), y=yp(yy),
                            xanchor="left", yanchor="middle", showarrow=False,
                            font=dict(family=FONT, size=LEG_SIZE, color="black")))

layout["annotations"] = annotations
layout["shapes"] = shapes
fig.update_layout(**layout)
fig.write_html("out.html")
